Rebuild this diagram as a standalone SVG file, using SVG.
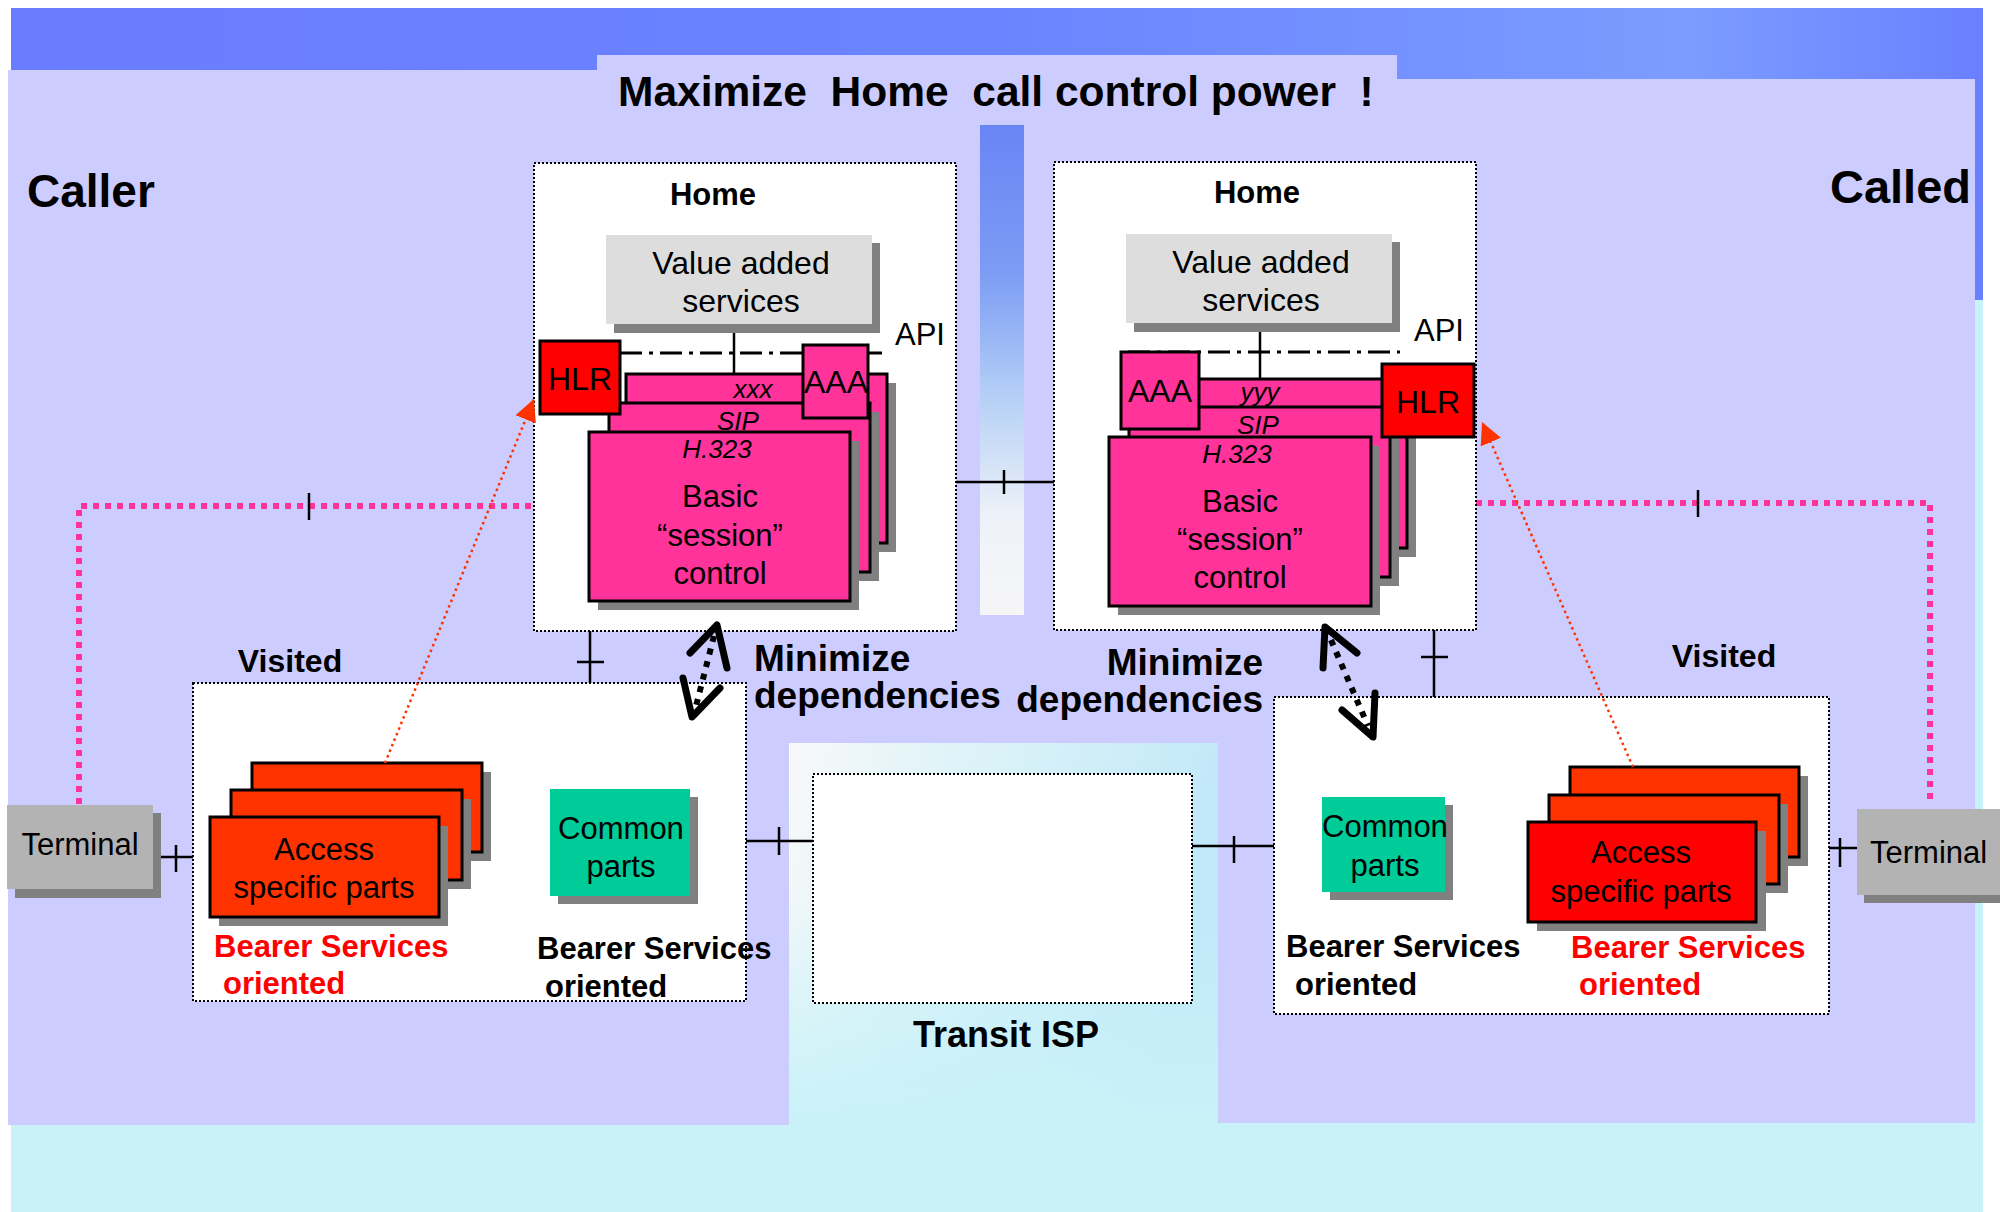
<svg xmlns="http://www.w3.org/2000/svg" width="2000" height="1212" viewBox="0 0 2000 1212">
  <defs>
    <style>
      text { font-family: "Liberation Sans", Arial, sans-serif; fill: #000; }
      .b { font-weight: bold; }
      .t31 { font-size: 31px; }
      .t32 { font-size: 32px; }
      .it { font-size: 26px; font-style: italic; }
      .mid { text-anchor: middle; }
      .end { text-anchor: end; }
      .red { fill: #ff0000; }
      .frame { fill: #ffffff; stroke: #000; stroke-width: 2; stroke-dasharray: 2 2; }
      .shadow { fill: #808080; }
      .card { fill: #ff3399; stroke: #000; stroke-width: 3; }
      .hlr { fill: #ff0000; stroke: #000; stroke-width: 3; }
      .acc { fill: #ff3300; stroke: #000; stroke-width: 3; }
      .acc2 { fill: #ff0000; stroke: #000; stroke-width: 3; }
      .vas { fill: #dddddd; }
      .term { fill: #b3b3b3; }
      .common { fill: #00cc99; }
      .link { stroke: #000; stroke-width: 2.5; fill: none; }
      .api { stroke: #000; stroke-width: 3; stroke-dasharray: 22 7 4 7; fill: none; }
      .sig { stroke: #ff3399; stroke-width: 6; stroke-dasharray: 6 6; fill: none; }
      .reg { stroke: #ff3300; stroke-width: 2.5; stroke-dasharray: 2.5 3.5; fill: none; marker-end: url(#redHead); }
      .dep { stroke: #000; stroke-width: 6; stroke-dasharray: 6 7; fill: none; }
      .depHead { stroke: #000; stroke-width: 7; stroke-linecap: round; stroke-linejoin: round; fill: none; }
      .note { font-size: 37px; font-weight: bold; }
    </style>
    <linearGradient id="skyTop" x1="0" y1="0" x2="1" y2="0">
      <stop offset="0" stop-color="#6a7cff"/>
      <stop offset="0.5" stop-color="#6a84ff"/>
      <stop offset="0.85" stop-color="#7c9cff"/>
      <stop offset="1" stop-color="#6a80ff"/>
    </linearGradient>
    <linearGradient id="strip" x1="0" y1="0" x2="0" y2="1">
      <stop offset="0" stop-color="#6a84f4"/>
      <stop offset="0.3" stop-color="#7c9cf4"/>
      <stop offset="0.55" stop-color="#b4cff6"/>
      <stop offset="0.8" stop-color="#eef2f8"/>
      <stop offset="1" stop-color="#f6f6f8"/>
    </linearGradient>
    <linearGradient id="transitBg" x1="0" y1="0" x2="1" y2="0.25">
      <stop offset="0" stop-color="#f8f8f8"/>
      <stop offset="0.35" stop-color="#e0f4f8"/>
      <stop offset="1" stop-color="#c0e8f8"/>
    </linearGradient>
    <linearGradient id="transitFade" x1="0" y1="0" x2="0" y2="1">
      <stop offset="0" stop-color="#c8f2f8" stop-opacity="0"/>
      <stop offset="1" stop-color="#c8f2f8" stop-opacity="1"/>
    </linearGradient>
    <marker id="redHead" markerUnits="userSpaceOnUse" markerWidth="24" markerHeight="24" refX="22" refY="11" orient="auto">
      <path d="M0,0 L22,11 L0,22 z" fill="#ff3300"/>
    </marker>
  </defs>

  <!-- backdrop -->
  <rect x="0" y="0" width="2000" height="1212" fill="#ffffff"/>
  <rect x="11" y="8" width="1972" height="300" fill="url(#skyTop)"/>
  <rect x="11" y="300" width="1972" height="912" fill="#c8f2f8"/>
  <rect x="789" y="743" width="429" height="382" fill="url(#transitBg)"/>
  <rect x="789" y="900" width="429" height="225" fill="url(#transitFade)"/>
  <path d="M8,70 H597 V55 H1397 V79 H1975 V1123 H1218 V743 H789 V1125 H8 Z" fill="#ccccff"/>
  <rect x="980" y="125" width="44" height="490" fill="url(#strip)"/>

  <!-- headings -->
  <text class="b" x="618" y="106" font-size="42.5" xml:space="preserve">Maximize  Home  call control power  !</text>
  <text class="b" x="27" y="207" font-size="46">Caller</text>
  <text class="b end" x="1971" y="203" font-size="47">Called</text>

  <!-- connectors -->
  <g id="connectors">
    <line class="link" x1="956" y1="482" x2="1054" y2="482"/>
    <line class="link" x1="1004" y1="470" x2="1004" y2="494"/>
    <line class="link" x1="590" y1="631" x2="590" y2="683"/>
    <line class="link" x1="577" y1="662" x2="604" y2="662"/>
    <line class="link" x1="1434" y1="630" x2="1434" y2="697"/>
    <line class="link" x1="1421" y1="657" x2="1448" y2="657"/>
    <line class="link" x1="161" y1="857" x2="193" y2="857"/>
    <line class="link" x1="176" y1="845" x2="176" y2="872"/>
    <line class="link" x1="746" y1="841" x2="813" y2="841"/>
    <line class="link" x1="779" y1="827" x2="779" y2="855"/>
    <line class="link" x1="1192" y1="846" x2="1274" y2="846"/>
    <line class="link" x1="1234" y1="836" x2="1234" y2="863"/>
    <line class="link" x1="1829" y1="848" x2="1857" y2="848"/>
    <line class="link" x1="1840" y1="838" x2="1840" y2="867"/>
    <polyline class="sig" points="79,804 79,506 534,506"/>
    <line class="link" x1="309" y1="493" x2="309" y2="520"/>
    <polyline class="sig" points="1476,503 1930,503 1930,803"/>
    <line class="link" x1="1698" y1="490" x2="1698" y2="517"/>
  </g>

  <!-- caller home domain -->
  <g id="home-caller">
    <rect class="frame" x="534" y="163" width="422" height="468"/>
    <text class="b t31 mid" x="713" y="205">Home</text>
    <rect class="shadow" x="614" y="243" width="266" height="90"/>
    <rect class="vas" x="606" y="235" width="266" height="89"/>
    <text class="t32 mid" x="741" y="274">Value added</text>
    <text class="t32 mid" x="741" y="312">services</text>
    <line class="api" x1="620" y1="353" x2="882" y2="353"/>
    <text class="t31" x="895" y="345">API</text>
    <line class="link" x1="734" y1="333" x2="734" y2="374"/>
    <rect class="shadow" x="635" y="383" width="261" height="169"/>
    <rect class="card" x="626" y="374" width="261" height="169"/>
    <text class="it mid" x="753" y="398">xxx</text>
    <rect class="shadow" x="618" y="412" width="261" height="169"/>
    <rect class="card" x="609" y="403" width="261" height="169"/>
    <text class="it mid" x="738" y="430">SIP</text>
    <rect class="shadow" x="598" y="441" width="261" height="169"/>
    <rect class="card" x="589" y="432" width="261" height="169"/>
    <text class="it mid" x="717" y="458">H.323</text>
    <text class="t31 mid" x="720" y="507">Basic</text>
    <text class="t31 mid" x="720" y="546">“session”</text>
    <text class="t31 mid" x="720" y="584">control</text>
    <rect class="hlr" x="540" y="341" width="80" height="73"/>
    <text class="t32 mid" x="580" y="390">HLR</text>
    <rect class="card" x="803" y="345" width="65" height="73"/>
    <text class="t32 mid" x="836" y="393">AAA</text>
  </g>

  <!-- called home domain -->
  <g id="home-called">
    <rect class="frame" x="1054" y="162" width="422" height="468"/>
    <text class="b t31 mid" x="1257" y="203">Home</text>
    <rect class="shadow" x="1134" y="242" width="266" height="90"/>
    <rect class="vas" x="1126" y="234" width="266" height="89"/>
    <text class="t32 mid" x="1261" y="273">Value added</text>
    <text class="t32 mid" x="1261" y="311">services</text>
    <line class="api" x1="1128" y1="352" x2="1400" y2="352"/>
    <text class="t31" x="1414" y="341">API</text>
    <line class="link" x1="1260" y1="332" x2="1260" y2="379"/>
    <rect class="shadow" x="1155" y="388" width="261" height="169"/>
    <rect class="card" x="1146" y="379" width="261" height="169"/>
    <text class="it mid" x="1260" y="401">yyy</text>
    <rect class="shadow" x="1138" y="416" width="261" height="170"/>
    <rect class="card" x="1129" y="407" width="261" height="170"/>
    <text class="it mid" x="1258" y="434">SIP</text>
    <rect class="shadow" x="1118" y="446" width="262" height="169"/>
    <rect class="card" x="1109" y="437" width="262" height="169"/>
    <text class="it mid" x="1237" y="463">H.323</text>
    <text class="t31 mid" x="1240" y="512">Basic</text>
    <text class="t31 mid" x="1240" y="550">“session”</text>
    <text class="t31 mid" x="1240" y="588">control</text>
    <rect class="card" x="1121" y="352" width="78" height="77"/>
    <text class="t32 mid" x="1160" y="402">AAA</text>
    <rect class="hlr" x="1382" y="364" width="92" height="73"/>
    <text class="t32 mid" x="1428" y="413">HLR</text>
  </g>

  <!-- caller visited domain -->
  <g id="visited-caller">
    <rect class="frame" x="193" y="683" width="553" height="318"/>
    <text class="b t32 mid" x="290" y="672">Visited</text>
    <rect class="shadow" x="261" y="772" width="230" height="89"/>
    <rect class="acc" x="252" y="763" width="230" height="89"/>
    <rect class="shadow" x="240" y="799" width="231" height="90"/>
    <rect class="acc" x="231" y="790" width="231" height="90"/>
    <rect class="shadow" x="219" y="826" width="229" height="100"/>
    <rect class="acc" x="210" y="817" width="229" height="100"/>
    <text class="t31 mid" x="324" y="860">Access</text>
    <text class="t31 mid" x="324" y="898">specific parts</text>
    <rect class="shadow" x="558" y="797" width="140" height="107"/>
    <rect class="common" x="550" y="789" width="140" height="107"/>
    <text class="t31 mid" x="621" y="839">Common</text>
    <text class="t31 mid" x="621" y="877">parts</text>
    <text class="b t31 red" x="214" y="957">Bearer Services</text>
    <text class="b t31 red" x="223" y="994">oriented</text>
    <text class="b t31" x="537" y="959">Bearer Services</text>
    <text class="b t31" x="545" y="997">oriented</text>
  </g>

  <!-- called visited domain -->
  <g id="visited-called">
    <rect class="frame" x="1274" y="697" width="555" height="317"/>
    <text class="b t32 mid" x="1724" y="667">Visited</text>
    <rect class="shadow" x="1330" y="805" width="123" height="95"/>
    <rect class="common" x="1322" y="797" width="123" height="95"/>
    <text class="t31 mid" x="1385" y="837">Common</text>
    <text class="t31 mid" x="1385" y="876">parts</text>
    <rect class="shadow" x="1579" y="776" width="229" height="90"/>
    <rect class="acc" x="1570" y="767" width="229" height="90"/>
    <rect class="shadow" x="1558" y="804" width="230" height="89"/>
    <rect class="acc" x="1549" y="795" width="230" height="89"/>
    <rect class="shadow" x="1537" y="831" width="229" height="100"/>
    <rect class="acc2" x="1528" y="822" width="228" height="100"/>
    <text class="t31 mid" x="1641" y="863">Access</text>
    <text class="t31 mid" x="1641" y="902">specific parts</text>
    <text class="b t31" x="1286" y="957">Bearer Services</text>
    <text class="b t31" x="1295" y="995">oriented</text>
    <text class="b t31 red" x="1571" y="958">Bearer Services</text>
    <text class="b t31 red" x="1579" y="995">oriented</text>
  </g>

  <!-- transit network -->
  <g id="transit">
    <rect class="frame" x="813" y="774" width="379" height="229"/>
    <text class="b mid" x="1006" y="1047" font-size="36">Transit ISP</text>
  </g>

  <!-- terminals -->
  <g id="terminal-caller">
    <rect class="shadow" x="15" y="813" width="146" height="85"/>
    <rect class="term" x="7" y="805" width="146" height="84"/>
    <text class="t31 mid" x="80" y="855">Terminal</text>
  </g>
  <g id="terminal-called">
    <rect class="shadow" x="1864" y="817" width="140" height="86"/>
    <rect class="term" x="1857" y="809" width="143" height="86"/>
    <text class="t31" x="1870" y="863">Terminal</text>
  </g>

  <!-- registration paths and dependency markers -->
  <g id="overlays">
    <line class="reg" x1="385" y1="763" x2="534" y2="399"/>
    <line class="reg" x1="1633" y1="767" x2="1482" y2="422"/>
    <line class="dep" x1="714" y1="636" x2="695" y2="710"/>
    <polyline class="depHead" points="690,653 717,625 727,668"/>
    <polyline class="depHead" points="683,678 692,717 720,688"/>
    <text class="note" x="754" y="671">Minimize</text>
    <text class="note" x="754" y="708">dependencies</text>
    <line class="dep" x1="1331" y1="640" x2="1368" y2="726"/>
    <polyline class="depHead" points="1323,668 1325,627 1357,653"/>
    <polyline class="depHead" points="1375,693 1373,737 1342,710"/>
    <text class="note end" x="1263" y="675">Minimize</text>
    <text class="note end" x="1263" y="712">dependencies</text>
  </g>
</svg>
